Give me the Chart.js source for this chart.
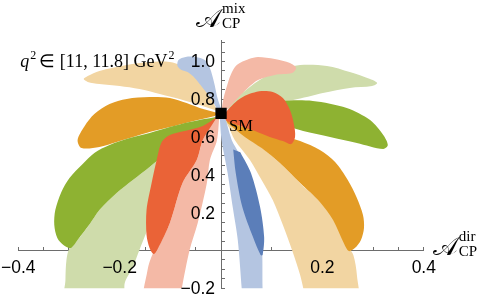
<!DOCTYPE html>
<html>
<head>
<meta charset="utf-8">
<script src="https://cdn.jsdelivr.net/npm/chart.js@4"></script>
<style>
  html, body { margin: 0; padding: 0; background: #fff; }
</style>
</head>
<body>
<canvas id="cpChart" width="480" height="303"></canvas>
<script>
// petal outlines as [A_dir, A_mix] pairs
const greenLightRight = [[0.001,0.743],[0.037,0.823],[0.076,0.902],[0.116,0.955],[0.156,0.981],[0.209,0.976],[0.254,0.944],[0.294,0.907],[0.308,0.886],[0.298,0.870],[0.254,0.860],[0.201,0.833],[0.142,0.796],[0.096,0.786],[0.057,0.775],[0.021,0.754]];
const greenLightLeft = [[-0.010,0.706],[-0.042,0.648],[-0.072,0.585],[-0.107,0.516],[-0.141,0.442],[-0.174,0.373],[-0.206,0.304],[-0.240,0.214],[-0.259,0.140],[-0.283,0.056],[-0.299,0.013],[-0.305,-0.050],[-0.307,-0.156],[-0.307,-0.288],[-0.194,-0.288],[-0.190,-0.172],[-0.174,-0.087],[-0.161,0.003],[-0.135,0.177],[-0.107,0.357],[-0.088,0.532],[-0.062,0.611],[-0.032,0.675]];
const orangeLightUp = [[-0.007,0.738],[-0.042,0.770],[-0.082,0.802],[-0.121,0.828],[-0.161,0.854],[-0.200,0.870],[-0.240,0.881],[-0.263,0.892],[-0.271,0.907],[-0.263,0.923],[-0.240,0.950],[-0.186,0.981],[-0.141,0.997],[-0.101,0.997],[-0.078,0.976],[-0.052,0.918],[-0.032,0.860],[-0.018,0.796]];
const orangeLightDown = [[-0.001,0.717],[0.013,0.664],[0.027,0.585],[0.057,0.479],[0.080,0.373],[0.102,0.267],[0.122,0.135],[0.140,0.003],[0.156,-0.130],[0.165,-0.235],[0.169,-0.288],[0.268,-0.288],[0.268,-0.130],[0.261,-0.024],[0.250,0.024],[0.229,0.135],[0.199,0.251],[0.159,0.347],[0.120,0.452],[0.086,0.532],[0.053,0.595],[0.023,0.659]];
const redLightUp = [[0.001,0.743],[0.005,0.807],[0.011,0.865],[0.019,0.929],[0.031,0.981],[0.055,1.013],[0.073,1.024],[0.106,1.013],[0.136,0.992],[0.148,0.966],[0.140,0.939],[0.106,0.929],[0.073,0.902],[0.053,0.860],[0.033,0.807],[0.011,0.743]];
const redLightDown = [[-0.003,0.728],[-0.008,0.585],[-0.022,0.479],[-0.028,0.357],[-0.046,0.146],[-0.062,0.003],[-0.078,-0.209],[-0.082,-0.288],[-0.151,-0.288],[-0.145,-0.103],[-0.135,-0.019],[-0.127,0.003],[-0.101,0.146],[-0.076,0.357],[-0.048,0.479],[-0.036,0.585],[-0.016,0.690]];
const blueLightUp = [[-0.005,0.733],[-0.018,0.796],[-0.036,0.860],[-0.052,0.913],[-0.066,0.944],[-0.078,0.955],[-0.086,0.976],[-0.084,1.008],[-0.070,1.024],[-0.050,1.024],[-0.032,1.008],[-0.022,0.966],[-0.014,0.892],[-0.007,0.807],[0.001,0.743]];
const blueLightDown = [[-0.003,0.728],[0.001,0.585],[0.013,0.410],[0.023,0.230],[0.033,0.056],[0.041,-0.209],[0.043,-0.288],[0.084,-0.288],[0.082,-0.209],[0.081,0.020],[0.076,0.150],[0.064,0.300],[0.050,0.420],[0.035,0.516],[0.021,0.585],[0.007,0.717]];
const orangeDarkLeft = [[-0.007,0.728],[-0.042,0.754],[-0.068,0.780],[-0.101,0.807],[-0.141,0.812],[-0.186,0.802],[-0.220,0.775],[-0.250,0.722],[-0.269,0.659],[-0.283,0.585],[-0.275,0.542],[-0.240,0.548],[-0.206,0.574],[-0.161,0.611],[-0.141,0.627],[-0.101,0.653],[-0.062,0.680],[-0.012,0.712]];
const orangeDarkRight = [[0.007,0.706],[0.037,0.659],[0.076,0.638],[0.116,0.611],[0.156,0.579],[0.195,0.532],[0.225,0.468],[0.250,0.373],[0.268,0.278],[0.280,0.188],[0.282,0.119],[0.276,0.056],[0.264,0.013],[0.252,-0.003],[0.243,0.034],[0.221,0.161],[0.195,0.257],[0.156,0.357],[0.116,0.463],[0.080,0.542],[0.047,0.601],[0.013,0.675]];
const greenDarkLeft = [[-0.010,0.706],[-0.062,0.680],[-0.101,0.653],[-0.141,0.622],[-0.180,0.595],[-0.220,0.558],[-0.250,0.516],[-0.273,0.458],[-0.299,0.384],[-0.315,0.310],[-0.327,0.214],[-0.329,0.135],[-0.323,0.066],[-0.311,0.029],[-0.297,0.013],[-0.283,0.056],[-0.259,0.140],[-0.240,0.214],[-0.206,0.304],[-0.174,0.373],[-0.141,0.442],[-0.107,0.516],[-0.072,0.585],[-0.042,0.638],[-0.014,0.685]];
const greenDarkRight = [[0.007,0.717],[0.057,0.770],[0.116,0.791],[0.181,0.791],[0.248,0.754],[0.294,0.690],[0.320,0.611],[0.329,0.558],[0.320,0.537],[0.268,0.569],[0.215,0.601],[0.162,0.632],[0.142,0.648],[0.106,0.664],[0.057,0.680],[0.011,0.701]];
const blueDark = [[0.024,0.535],[0.029,0.410],[0.042,0.230],[0.063,0.071],[0.078,-0.024],[0.082,-0.024],[0.085,0.071],[0.077,0.230],[0.059,0.410],[0.038,0.520]];
const redDarkLeft = [[-0.008,0.706],[-0.036,0.659],[-0.072,0.632],[-0.101,0.611],[-0.117,0.574],[-0.127,0.479],[-0.137,0.357],[-0.147,0.214],[-0.147,0.082],[-0.141,0.013],[-0.133,-0.019],[-0.125,0.008],[-0.101,0.146],[-0.076,0.357],[-0.048,0.479],[-0.036,0.585],[-0.018,0.664]];
const redDarkRight = [[0.005,0.712],[0.013,0.743],[0.029,0.786],[0.043,0.812],[0.061,0.833],[0.080,0.844],[0.102,0.839],[0.122,0.807],[0.136,0.743],[0.144,0.664],[0.146,0.601],[0.138,0.563],[0.122,0.579],[0.096,0.601],[0.067,0.632],[0.037,0.659],[0.011,0.685]];

const smPoint = [[0, 0.725]];
const xTickLabels = [-0.4, -0.2, 0.2, 0.4];
const yTickLabels = [-0.2, 0.2, 0.4, 0.6, 0.8, 1.0];

const colors = {
  blueL: '#b4c5e1', blueD: '#5b7eb9',
  orangeL: '#f2d5a2', orangeD: '#e39c26',
  greenL: '#cfdcab', greenD: '#8eb232',
  redL: '#f4b9a6', redD: '#ea6337'
};

// bottom layer first
const layers = [
  [greenLightRight, 'greenL'], [greenLightLeft, 'greenL'],
  [orangeLightUp, 'orangeL'], [orangeLightDown, 'orangeL'],
  [redLightUp, 'redL'], [redLightDown, 'redL'],
  [blueLightUp, 'blueL'], [blueLightDown, 'blueL'],
  [orangeDarkLeft, 'orangeD'], [orangeDarkRight, 'orangeD'],
  [greenDarkLeft, 'greenD'], [greenDarkRight, 'greenD'],
  [blueDark, 'blueD'],
  [redDarkLeft, 'redD'], [redDarkRight, 'redD']
];

const toXY = arr => arr.map(p => ({x: p[0], y: p[1]}));
const fmt = v => (v < 0 ? '\u2212' : '') + Math.abs(v).toFixed(1);

const datasets = layers.map((l, i) => ({
  data: toXY(l[0]),
  backgroundColor: colors[l[1]],
  borderColor: 'rgba(0,0,0,0)',
  borderWidth: 0,
  pointRadius: 0,
  tension: 0.3,
  fill: 'shape',
  order: 100 - i
}));
datasets.push({
  data: toXY(smPoint),
  showLine: false,
  pointStyle: 'rect',
  pointRadius: 8,
  backgroundColor: '#000',
  borderWidth: 0,
  order: 0
});
const smIndex = datasets.length - 1;

function drawCPTitle(ctx, left, base, sup){
  ctx.font = '26px "DejaVu Serif"';
  const a = '\u{1D49C}';
  ctx.fillText(a, left, base);
  const w = ctx.measureText(a).width;
  ctx.font = '15px "Liberation Serif"';
  ctx.fillText(sup, left + w + 1, base - 14);
  ctx.fillText('CP', left + w + 1, base + 1);
}

function drawRange(ctx, left, base){
  let x = left;
  ctx.font = 'italic 18px "Liberation Serif"';
  ctx.fillText('q', x, base); x += ctx.measureText('q').width + 1;
  ctx.font = '12px "Liberation Serif"';
  ctx.fillText('2', x, base - 8); x += ctx.measureText('2').width + 3;
  ctx.font = '18px "Liberation Serif"';
  const s = '\u2208 [11, 11.8] GeV';
  ctx.fillText(s, x, base); x += ctx.measureText(s).width + 1;
  ctx.font = '12px "Liberation Serif"';
  ctx.fillText('2', x, base - 8);
}

const textPlugin = {
  id: 'cpText',
  afterDraw(chart){
    const {ctx, chartArea, scales: {x, y}} = chart;
    const x0 = x.getPixelForValue(0), y0 = y.getPixelForValue(0);
    ctx.save();
    ctx.fillStyle = '#000';
    // tick labels
    ctx.font = '17.5px "Liberation Sans", Arial, sans-serif';
    ctx.textBaseline = 'middle';
    ctx.textAlign = 'center';
    xTickLabels.forEach(v => ctx.fillText(fmt(v), x.getPixelForValue(v), y0 + 18));
    ctx.textAlign = 'right';
    yTickLabels.forEach(v => ctx.fillText(fmt(v), x0 - 6, y.getPixelForValue(v) + 1));
    // axis titles and annotations
    ctx.textBaseline = 'alphabetic';
    ctx.textAlign = 'left';
    drawCPTitle(ctx, x0 - 25, chartArea.top - 14, 'mix');
    drawCPTitle(ctx, x.right + 9, y0 + 5, 'dir');
    drawRange(ctx, chartArea.left + 2, 67);
    const pt = chart.getDatasetMeta(smIndex).data[0];
    ctx.font = '16.5px "Liberation Serif"';
    ctx.fillText('SM', pt.x + 8, pt.y + 18);
    ctx.restore();
  }
};

const axisColor = '#6d6d6d';

new Chart(document.getElementById('cpChart'), {
  type: 'line',
  data: {datasets},
  plugins: [textPlugin],
  options: {
    responsive: false,
    animation: false,
    devicePixelRatio: 1,
    layout: {padding: {left: 18.3, right: 56.2, top: 40.7, bottom: 14.7}},
    plugins: {legend: {display: false}, tooltip: {enabled: false}},
    scales: {
      x: {
        type: 'linear', min: -0.4, max: 0.4,
        position: {y: 0}, z: 1,
        grid: {drawOnChartArea: false, drawTicks: true, tickLength: -4, color: axisColor},
        border: {color: axisColor, width: 1},
        ticks: {display: false, stepSize: 0.05, autoSkip: false, includeBounds: false}
      },
      y: {
        type: 'linear', min: -0.2, max: 1.11,
        position: {x: 0}, z: 1,
        grid: {drawOnChartArea: false, drawTicks: true, tickLength: -4, color: axisColor},
        border: {color: axisColor, width: 1},
        ticks: {display: false, stepSize: 0.05, autoSkip: false, includeBounds: false}
      }
    }
  }
});
</script>
</body>
</html>
